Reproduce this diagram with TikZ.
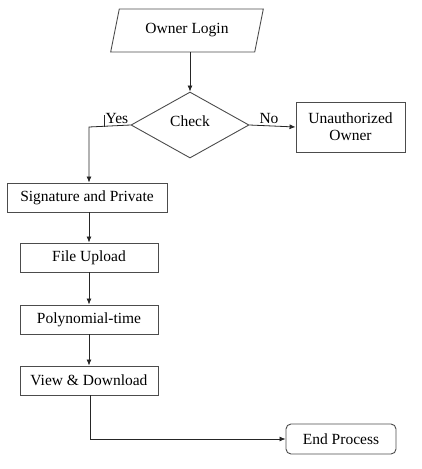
\documentclass[tikz,border=0pt]{standalone}
\usepackage{fontspec}
\setmainfont{Liberation Serif}
\usetikzlibrary{shapes.geometric,arrows.meta}
\begin{document}
\begin{tikzpicture}[x=1pt,y=-1pt,
  every node/.style={font=\fontsize{15.5}{17}\selectfont},
  box/.style={draw=black!70,line width=0.9pt,rectangle,inner sep=0pt,align=center},
  arr/.style={-{Latex[length=6pt,width=5pt]},line width=0.8pt,draw=black!85},
  ln/.style={line width=0.8pt,draw=black!85}]
\useasboundingbox (0,0) rectangle (422,469);
\node[draw=black!70,line width=0.9pt,trapezium,trapezium left angle=74,trapezium right angle=106,
  trapezium stretches=true,minimum width=154pt,minimum height=43pt,inner sep=2pt,text depth=5pt] (login) at (187,30.5) {Owner Login};
\node[draw=black!70,line width=0.9pt,diamond,minimum width=118pt,minimum height=66pt,inner sep=1pt,text depth=8pt] (check) at (190,125) {Check};
\node[box,minimum width=109pt,minimum height=50pt] (unauth) at (350.5,127) {Unauthorized\\Owner};
\node[box,minimum width=160pt,minimum height=29pt] (sig) at (87,197.5) {Signature and Private};
\node[box,minimum width=138pt,minimum height=29pt] (file) at (89,257.5) {File Upload};
\node[box,minimum width=138pt,minimum height=29pt] (poly) at (89,319.5) {Polynomial-time};
\node[box,minimum width=138pt,minimum height=29pt] (view) at (89,380.5) {View \& Download};
\node[box,rounded corners=5pt,minimum width=110pt,minimum height=30pt] (end) at (341,439) {End Process};
\node (yes) at (117,118) {Yes};
\node (no) at (269,118) {No};
\coordinate (yc) at (89,127);
\coordinate (tk) at (104,115);
\coordinate (ec) at (90,439);
\draw[arr] (login.south -| check.north) -- (check.north);
\draw[arr] (check.east) -- (unauth.west);
\draw[arr] (check.west) -- (yc) -- (yc |- sig.north);
\draw[ln] (tk) -- (tk |- yc);
\draw[arr] (sig.south -| yc) -- (file.north -| yc);
\draw[arr] (file.south -| yc) -- (poly.north -| yc);
\draw[arr] (poly.south -| yc) -- (view.north -| yc);
\draw[arr] (view.south -| ec) -- (ec) -- (end.west);
\end{tikzpicture}
\end{document}
